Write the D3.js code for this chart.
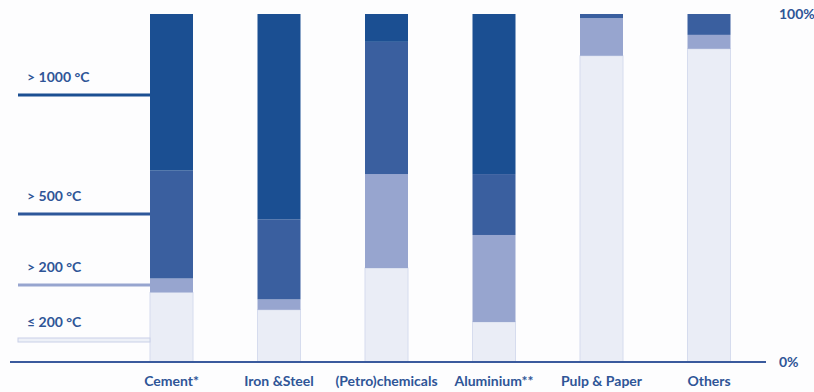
<!DOCTYPE html>
<html>
<head>
<meta charset="utf-8">
<script src="https://cdn.jsdelivr.net/npm/d3@7/dist/d3.min.js"></script>
<style>
  html, body { margin: 0; padding: 0; background: #fdfdfe; }
  svg { display: block; }
  text { font-family: Lato, "Open Sans", sans-serif; fill: #2f5597; font-weight: 700; }
</style>
</head>
<body>
<svg id="chart" width="814" height="392"></svg>
<script>
// ---- data ----
const categories = ["Cement*", "Iron &Steel", "(Petro)chemicals", "Aluminium**", "Pulp & Paper", "Others"];
const seriesNames = ["≤ 200 °C", "> 200 °C", "> 500 °C", "> 1000 °C"];
const le200   = [20, 15, 27, 11.5, 88, 90];
const gt200   = [4, 3, 27, 25, 10.8, 4];
const gt500   = [31, 23, 38, 17.5, 1.2, 6];
const gt1000  = [45, 59, 8, 46, 0, 0];
const axisTicks = [0, 100];
const axisTickLabels = ["0%", "100%"];

// ---- layout / style ----
const colors = ["#eaedf6", "#97a5cf", "#3a5f9f", "#1b4f92"];
const svg = d3.select("#chart");

const x = d3.scaleBand().domain(categories).range([117.75, 762.75])
  .paddingInner(0.6).paddingOuter(0.3);
const y = d3.scaleLinear().domain([0, 100]).range([362, 14]);

const rows = categories.map((c, i) => ({
  cat: c,
  [seriesNames[0]]: le200[i],
  [seriesNames[1]]: gt200[i],
  [seriesNames[2]]: gt500[i],
  [seriesNames[3]]: gt1000[i]
}));
const stacked = d3.stack().keys(seriesNames)(rows);

const g = svg.append("g");
stacked.forEach((layer, li) => {
  g.selectAll(null).data(layer).enter().append("rect")
    .attr("x", d => x(d.data.cat))
    .attr("width", x.bandwidth())
    .attr("y", d => y(d[1]))
    .attr("height", d => Math.max(0, y(d[0]) - y(d[1])))
    .attr("fill", colors[li])
    .attr("stroke", li === 0 ? "#d6dcee" : "none")
    .attr("stroke-width", 1);
});

// baseline
svg.append("line")
  .attr("x1", 10).attr("x2", 766)
  .attr("y1", y(0)).attr("y2", y(0))
  .attr("stroke", "#3a5a9d").attr("stroke-width", 2);

// category labels
svg.selectAll(null).data(categories).enter().append("text")
  .attr("x", d => x(d) + x.bandwidth() / 2)
  .attr("y", 386)
  .attr("text-anchor", "middle")
  .attr("font-size", 14)
  .text(d => d);

// right axis labels
svg.selectAll(null).data(axisTicks).enter().append("text")
  .attr("x", 779)
  .attr("y", (d, i) => y(d) + 5)
  .attr("font-size", 14)
  .text((d, i) => axisTickLabels[i]);

// legend on the left (lines pointing to the first bar)
const legendY = [340, 285, 214, 95];     // line y for each series
const legendLineColors = ["#eaedf6", "#97a5cf", "#2d579a", "#1b4f92"];
const lx0 = 18, lx1 = x(categories[0]);
seriesNames.forEach((name, i) => {
  if (i === 0) {
    svg.append("rect")
      .attr("x", lx0).attr("y", legendY[i] - 2)
      .attr("width", lx1 - lx0).attr("height", 4)
      .attr("fill", "#eef1f8").attr("stroke", "#c9d0e7").attr("stroke-width", 1);
  } else {
    svg.append("line")
      .attr("x1", lx0).attr("x2", lx1)
      .attr("y1", legendY[i]).attr("y2", legendY[i])
      .attr("stroke", legendLineColors[i]).attr("stroke-width", 3);
  }
  svg.append("text")
    .attr("x", 27).attr("y", legendY[i] - 13)
    .attr("font-size", 14)
    .text(name);
});
</script>
</body>
</html>
